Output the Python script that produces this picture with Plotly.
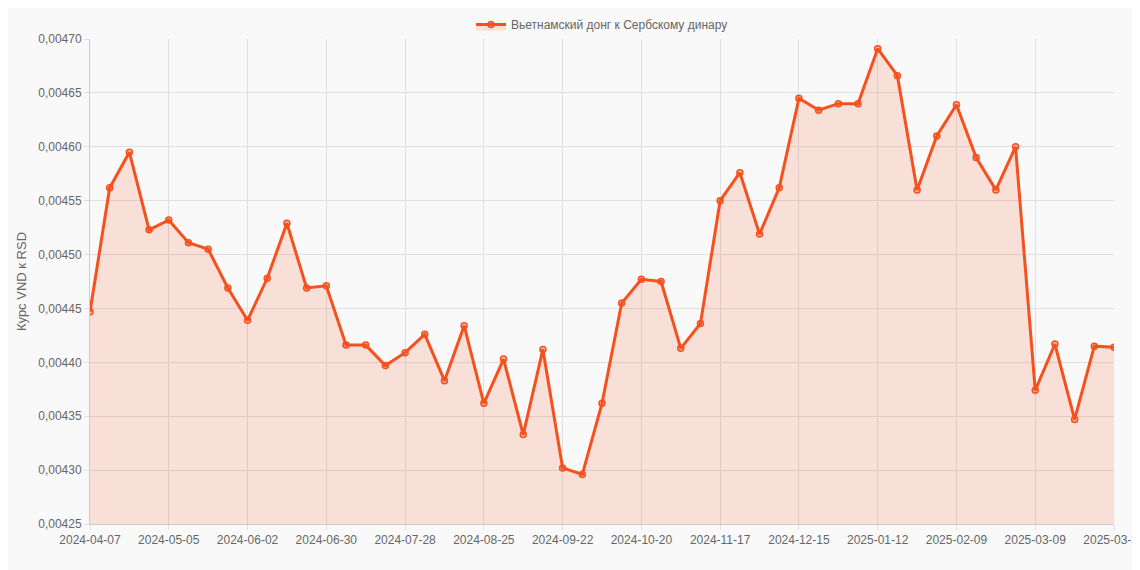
import pandas as pd
import plotly.graph_objects as go

# weekly dates, last point is 2025-03-31
dates = [d.strftime('%Y-%m-%d') for d in pd.date_range('2024-04-07', '2025-03-30', freq='7D')] + ['2025-03-31']

rates = [0.004447, 0.004562, 0.004595, 0.004523, 0.004532, 0.004511, 0.004505, 0.004469,
         0.004439, 0.004478, 0.004529, 0.004469, 0.004471, 0.004416, 0.004416, 0.004397,
         0.004409, 0.004426, 0.004383, 0.004434, 0.004362, 0.004403, 0.004333, 0.004412,
         0.004302, 0.004296, 0.004362, 0.004455, 0.004477, 0.004475, 0.004413, 0.004436,
         0.004550, 0.004576, 0.004519, 0.004562, 0.004645, 0.004634, 0.004640, 0.004640,
         0.004691, 0.004666, 0.004560, 0.004610, 0.004639, 0.004590, 0.004560, 0.004600,
         0.004374, 0.004417, 0.004347, 0.004415, 0.004414]

tick_idx = list(range(0, len(dates) - 1, 4)) + [len(dates) - 1]
tick_labels = [dates[i] for i in tick_idx]
y_ticks = [0.00425 + 0.00005 * i for i in range(10)]

fig = go.Figure(go.Scatter(
    x=list(range(len(dates))), y=rates, name='Вьетнамский донг к Сербскому динару',
    mode='lines+markers', fill='tozeroy', fillcolor='rgba(244,81,30,0.15)',
    line=dict(color='#f4511e', width=3),
    marker=dict(size=6, color='rgba(244,81,30,0.35)', line=dict(color='#f4511e', width=1.5)),
))

fig.update_layout(
    width=1140, height=570,
    margin=dict(l=82, r=34, t=31, b=54, autoexpand=False),
    paper_bgcolor='#f9f9f9', plot_bgcolor='#f9f9f9',
    font=dict(family='Liberation Sans, Arial, sans-serif', size=12, color='#666'),
    showlegend=True,
    legend=dict(orientation='h', x=0.5, xanchor='center', y=1.0, yanchor='bottom',
                font=dict(size=12, color='#666')),
    xaxis=dict(range=[0, len(dates) - 1], tickvals=tick_idx,
               ticktext=tick_labels, showgrid=True, gridcolor='#e0e0e0', automargin=False,
               linecolor='#ccc', zeroline=False, ticks='outside', tickcolor='#e0e0e0'),
    yaxis=dict(range=[0.00425, 0.00470], tickvals=y_ticks, automargin=False,
               ticktext=[f'{v:.5f}'.replace('.', ',') for v in y_ticks],
               title=dict(text='Курс VND к RSD', font=dict(size=13), standoff=8),
               showgrid=True, gridcolor='#e0e0e0', linecolor='#ccc', zeroline=False,
               ticks='outside', tickcolor='#e0e0e0'),
)

fig.write_html("out.html")
